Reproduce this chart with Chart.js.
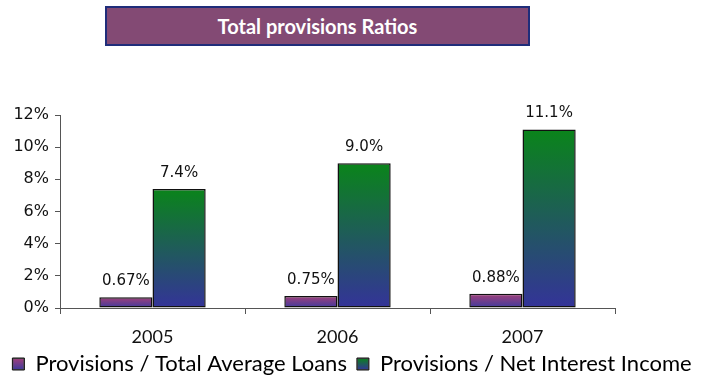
<!DOCTYPE html>
<html>
<head>
<meta charset="utf-8">
<script src="https://cdn.jsdelivr.net/npm/chart.js@4/dist/chart.umd.min.js"></script>
<style>
  html, body { margin: 0; padding: 0; background: #fff; overflow: hidden; }
  #wrap { position: relative; width: 704px; height: 378px; overflow: hidden; }
  #title {
    position: absolute; left: 105px; top: 6px; width: 421px; height: 36px;
    background: #834a74; border: 2px solid #1f2d7a;
    color: #fff; font: bold 20px Lato, sans-serif;
    display: flex; align-items: center; justify-content: center;
  }
  canvas { position: absolute; left: 0; top: 0; }
</style>
</head>
<body>
<div id="wrap">
  <canvas id="chart" width="704" height="385"></canvas>
  <div id="title">Total provisions Ratios</div>
</div>
<script>
const years = ['2005', '2006', '2007'];
const loanRatio = [0.67, 0.75, 0.88];
const nii = [7.4, 9.0, 11.1];
const loanLabels = ['0.67%', '0.75%', '0.88%'];
const niiLabels = ['7.4%', '9.0%', '11.1%'];
const yTicks = [0, 2, 4, 6, 8, 10, 12];

const loanColors = ['#a3407a', '#3c3a9e'];
const niiColors = ['#0a841a', '#343399'];

// vertical gradient per bar, from its top down to the base line
function barGradient(colors) {
  return function(context) {
    const chart = context.chart;
    const y = chart.scales.y;
    if (!chart.chartArea || !y || context.parsed === undefined) return colors[1];
    const top = y.getPixelForValue(context.parsed.y);
    const base = y.getPixelForValue(0);
    const g = chart.ctx.createLinearGradient(0, top, 0, base);
    g.addColorStop(0, colors[0]);
    g.addColorStop(1, colors[1]);
    return g;
  };
}

// value labels sitting above each bar
const valueLabels = {
  id: 'valueLabels',
  afterDatasetsDraw(chart) {
    const ctx = chart.ctx;
    ctx.save();
    ctx.font = '15px "DejaVu Sans"';
    ctx.fillStyle = '#111';
    ctx.textAlign = 'center';
    ctx.textBaseline = 'alphabetic';
    chart.data.datasets.forEach((ds, i) => {
      chart.getDatasetMeta(i).data.forEach((bar, j) => {
        ctx.fillText(ds.valueText[j], bar.x, bar.y - 12);
      });
    });
    ctx.restore();
  }
};

// repaint the legend swatches with the same gradients as the bars
const legendSwatches = {
  id: 'legendSwatches',
  afterDraw(chart) {
    const legend = chart.legend;
    if (!legend || !legend.legendHitBoxes) return;
    const opts = legend.options.labels;
    const fontSize = opts.font.size;
    const bw = opts.boxWidth, bh = opts.boxHeight;
    const ctx = chart.ctx;
    const sets = [loanColors, niiColors];
    legend.legendHitBoxes.forEach((hb, i) => {
      const x = hb.left;
      const y = hb.top + Math.max((fontSize - bh) / 2, 0);
      const g = ctx.createLinearGradient(0, y, 0, y + bh);
      g.addColorStop(0, sets[i][0]);
      g.addColorStop(1, sets[i][1]);
      ctx.save();
      ctx.fillStyle = g;
      ctx.fillRect(x + 1, y + 1, bw - 2, bh - 2);
      ctx.restore();
    });
  }
};

new Chart(document.getElementById('chart'), {
  type: 'bar',
  data: {
    labels: years,
    datasets: [
      {
        label: 'Provisions / Total Average Loans',
        data: loanRatio,
        valueText: loanLabels,
        backgroundColor: barGradient(loanColors),
        borderColor: '#111',
        borderWidth: 1.5,
        borderSkipped: false,
        categoryPercentage: 0.575,
        barPercentage: 1
      },
      {
        label: 'Provisions / Net Interest Income',
        data: nii,
        valueText: niiLabels,
        backgroundColor: barGradient(niiColors),
        borderColor: '#111',
        borderWidth: 1.5,
        borderSkipped: false,
        categoryPercentage: 0.575,
        barPercentage: 1
      }
    ]
  },
  options: {
    responsive: false,
    animation: false,
    layout: { padding: { top: 115, right: 0, left: 0, bottom: 0 } },
    scales: {
      x: {
        grid: { display: true, drawOnChartArea: false, offset: true, color: '#555', tickLength: 6 },
        border: { color: '#555' },
        ticks: { color: '#111', font: { family: 'Lato', size: 18 }, padding: 12 },
        afterFit(scale) { scale.height = 35; }
      },
      y: {
        min: 0, max: 12,
        afterBuildTicks(scale) { scale.ticks = yTicks.map(v => ({ value: v })); },
        grid: { display: true, drawOnChartArea: false, color: '#555', tickLength: 5 },
        border: { color: '#555' },
        ticks: {
          color: '#111', font: { family: 'DejaVu Sans', size: 16 }, padding: 6,
          callback: v => v + '%'
        },
        afterFit(scale) { scale.width = 60; }
      },
      // empty right-hand strip keeping the plot clear of the right edge
      side: {
        type: 'linear',
        position: 'right',
        display: true,
        grid: { display: false },
        border: { display: false },
        ticks: { display: false },
        afterFit(scale) { scale.width = 89; }
      }
    },
    plugins: {
      title: { display: false },
      tooltip: { enabled: false },
      legend: {
        position: 'bottom',
        labels: {
          font: { family: 'Lato', size: 22 },
          color: '#111',
          boxWidth: 12, boxHeight: 12,
          padding: 10,
          generateLabels(chart) {
            return chart.data.datasets.map((ds, i) => ({
              text: ds.label, fillStyle: '#555', strokeStyle: '#111', lineWidth: 1, datasetIndex: i
            }));
          }
        }
      }
    }
  },
  plugins: [valueLabels, legendSwatches]
});
</script>
</body>
</html>
